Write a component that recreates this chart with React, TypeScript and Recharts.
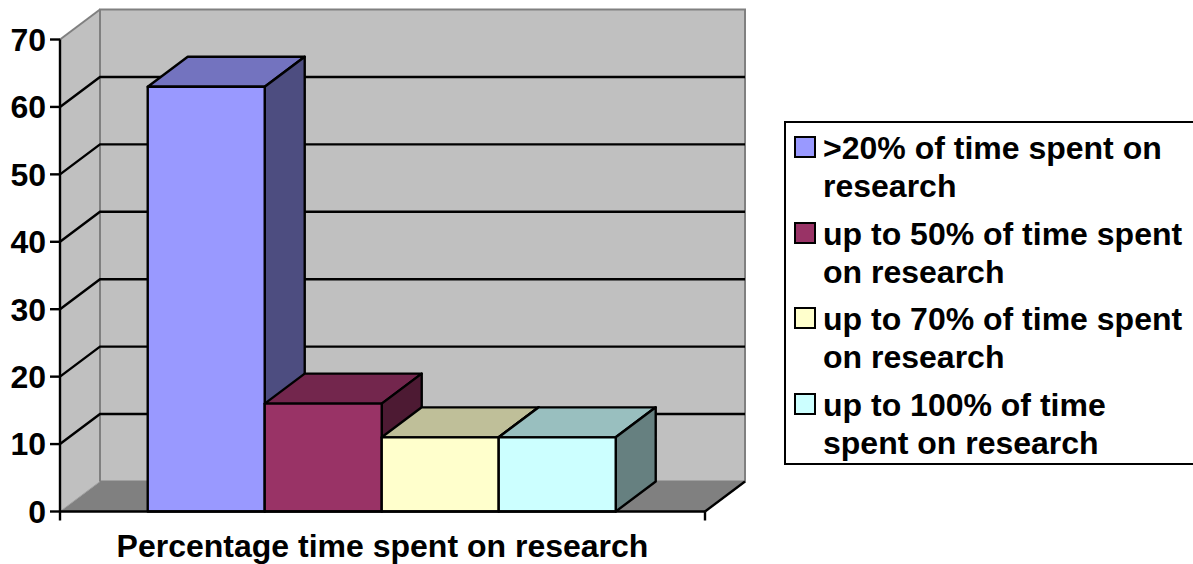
import React from 'react';
import { BarChart, Bar, XAxis, YAxis, CartesianGrid, Legend, usePlotArea } from 'recharts';

const category = 'Percentage time spent on research';
const seriesNames = [
  '>20% of time spent on research',
  'up to 50% of time spent on research',
  'up to 70% of time spent on research',
  'up to 100% of time spent on research',
];
const seriesValues = [63, 16, 11, 11];
const seriesColors = ['#9999FF', '#993366', '#FFFFCC', '#CCFFFF'];
const yTicks = [0, 10, 20, 30, 40, 50, 60, 70];

const row: Record<string, string | number> = { name: category };
seriesNames.forEach((n, i) => {
  row[n] = seriesValues[i];
});
const chartData = [row];

const DX = 40;
const DY = 30;
const LINE = 2.4;
const FONT = '"Liberation Sans", Arial, sans-serif';

const shade = (hex: string, k: number) => {
  const n = parseInt(hex.slice(1), 16);
  const c = [(n >> 16) & 255, (n >> 8) & 255, n & 255].map((v) => Math.round(v * k));
  return `rgb(${c[0]},${c[1]},${c[2]})`;
};

// walls and floor of the 3d box
const Walls = () => {
  const p = usePlotArea();
  if (!p) return null;
  const l = p.x;
  const r = p.x + p.width;
  const t = p.y;
  const b = p.y + p.height;
  return (
    <g>
      <polygon points={`${l},${t} ${l + DX},${t - DY} ${l + DX},${b - DY} ${l},${b}`} fill="#C0C0C0" />
      <rect x={l + DX} y={t - DY} width={p.width} height={p.height} fill="#C0C0C0" stroke="#808080" strokeWidth={2} />
      <line x1={l} y1={t} x2={l + DX} y2={t - DY} stroke="#808080" strokeWidth={2} />
      <polygon points={`${l},${b} ${l + DX},${b - DY} ${r + DX},${b - DY} ${r},${b}`} fill="#808080" />
      <line x1={l} y1={b} x2={l + DX} y2={b - DY} stroke="#A0A0A0" strokeWidth={1} />
      <line x1={r} y1={b} x2={r + DX} y2={b - DY} stroke="#000" strokeWidth={LINE} />
    </g>
  );
};

// x axis end ticks
const AxisEnds = () => {
  const p = usePlotArea();
  if (!p) return null;
  const b = p.y + p.height;
  return (
    <g>
      <line x1={p.x} y1={b} x2={p.x} y2={b + 9} stroke="#000" strokeWidth={LINE} />
      <line x1={p.x + p.width} y1={b} x2={p.x + p.width} y2={b + 9} stroke="#000" strokeWidth={LINE} />
    </g>
  );
};

const gridLine = (props: any) => {
  const { x1, x2, y1, index } = props;
  if (index === 0 || index === yTicks.length - 1) return <g key={`l-${index}`} />;
  return (
    <polyline
      key={`l-${index}`}
      points={`${x1},${y1} ${x1 + DX},${y1 - DY} ${x2 + DX},${y1 - DY}`}
      fill="none"
      stroke="#000"
      strokeWidth={LINE}
    />
  );
};

const Box3D = (props: any) => {
  const { x, y, width, height, fill } = props;
  const common = { stroke: '#000', strokeWidth: LINE, strokeLinejoin: 'round' as const };
  return (
    <g>
      <polygon
        points={`${x},${y} ${x + DX},${y - DY} ${x + width + DX},${y - DY} ${x + width},${y}`}
        fill={shade(fill, 0.75)}
        {...common}
      />
      <polygon
        points={`${x + width},${y} ${x + width + DX},${y - DY} ${x + width + DX},${y + height - DY} ${x + width},${y + height}`}
        fill={shade(fill, 0.5)}
        {...common}
      />
      <rect x={x} y={y} width={width} height={height} fill={fill} {...common} />
    </g>
  );
};

const LegendBox = (props: any) => {
  const items = props.payload || [];
  return (
    <div
      style={{
        boxSizing: 'border-box',
        width: 410,
        height: 344,
        background: '#fff',
        border: '2px solid #000',
        borderRight: 'none',
        fontFamily: FONT,
        fontWeight: 700,
        fontSize: 32,
        lineHeight: '38px',
        color: '#000',
        paddingTop: 6,
      }}
    >
      {items.map((it: any) => (
        <div key={it.value} style={{ position: 'relative', paddingLeft: 37, width: 362, height: 85.5 }}>
          <span
            style={{
              position: 'absolute',
              left: 8,
              top: 7,
              width: 18,
              height: 18,
              background: it.color,
              border: '2px solid #000',
            }}
          />
          {it.value}
        </div>
      ))}
    </div>
  );
};

export default function App() {
  return (
    <div style={{ position: 'absolute', left: 0, top: 0, width: 1193, height: 564 }}>
      <BarChart
        width={1193}
        height={564}
        data={chartData}
        margin={{ top: 39.5, right: 488, bottom: 0, left: 0 }}
        barCategoryGap="13.6%"
        barGap={0}
      >
        <Walls />
        <CartesianGrid vertical={false} horizontal={gridLine} zIndex={1} />
        <XAxis
          dataKey="name"
          height={52.5}
          tickLine={false}
          axisLine={{ stroke: '#000', strokeWidth: LINE }}
          tick={{ fill: '#000', fontFamily: FONT, fontWeight: 700, fontSize: 32 }}
          tickMargin={17}
          interval={0}
        />
        <YAxis
          width={60}
          domain={[0, 70]}
          ticks={yTicks}
          tickSize={10}
          tickMargin={4}
          axisLine={{ stroke: '#000', strokeWidth: LINE }}
          tickLine={{ stroke: '#000', strokeWidth: LINE }}
          tick={{ fill: '#000', fontFamily: FONT, fontWeight: 700, fontSize: 32 }}
        />
        <AxisEnds />
        {seriesNames.map((n, i) => (
          <Bar key={n} dataKey={n} name={n} fill={seriesColors[i]} shape={Box3D} isAnimationActive={false} />
        ))}
        <Legend
          layout="horizontal"
          verticalAlign="middle"
          align="center"
          itemSorter={null}
          content={LegendBox}
          wrapperStyle={{ left: 784, top: 121, width: 410, height: 344 }}
        />
      </BarChart>
    </div>
  );
}
